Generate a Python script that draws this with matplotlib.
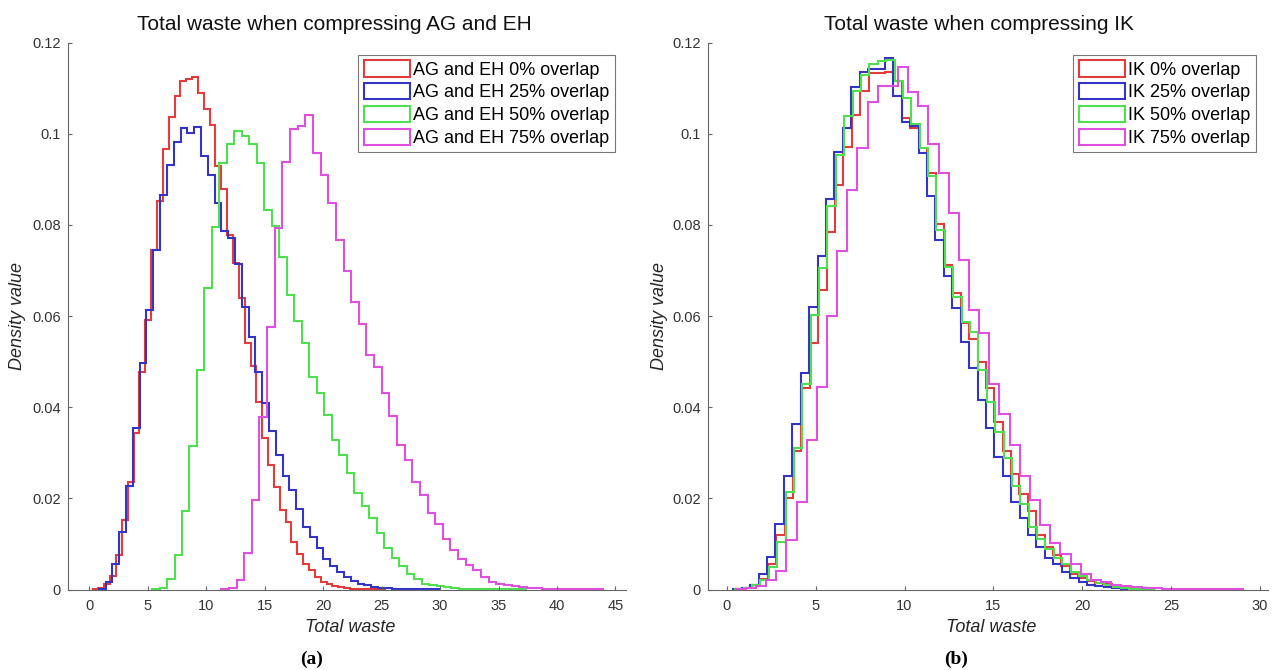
import numpy as np
import matplotlib.pyplot as plt
from matplotlib.patches import Patch

plt.rcParams['font.family'] = ['Liberation Sans', 'DejaVu Sans']

# density per bin, 50 bins each; bins start at *_start with width *_width
ag_labels = ['AG and EH 0% overlap', 'AG and EH 25% overlap',
             'AG and EH 50% overlap', 'AG and EH 75% overlap']
ag_start = [0.30, 0.83, 5.38, 11.30]
ag_width = [0.500, 0.582, 0.640, 0.653]

ag_0 = [0.0001, 0.0003, 0.0012, 0.0030, 0.0075, 0.0152, 0.0237, 0.0343, 0.0478, 0.0592,
        0.0746, 0.0852, 0.0966, 0.1037, 0.1083, 0.1116, 0.1120, 0.1124, 0.1090, 0.1055,
        0.1020, 0.0930, 0.0880, 0.0777, 0.0716, 0.0640, 0.0540, 0.0490, 0.0412, 0.0332,
        0.0273, 0.0226, 0.0174, 0.0149, 0.0105, 0.0079, 0.0057, 0.0042, 0.0028, 0.0017,
        0.0012, 0.0008, 0.0005, 0.0003, 0.0002, 0.0001, 0.0001, 0.00005, 0.00003, 0.00002]
ag_25 = [0.0002, 0.0017, 0.0057, 0.0127, 0.0228, 0.0354, 0.0497, 0.0614, 0.0744, 0.0865,
         0.0931, 0.0982, 0.1013, 0.1002, 0.1015, 0.0951, 0.0909, 0.0848, 0.0786, 0.0772,
         0.0715, 0.0620, 0.0555, 0.0478, 0.0410, 0.0348, 0.0295, 0.0248, 0.0218, 0.0176,
         0.0138, 0.0116, 0.0090, 0.0068, 0.0052, 0.0038, 0.0027, 0.0019, 0.0013, 0.0009,
         0.0006, 0.0004, 0.0003, 0.0002, 0.00015, 0.0001, 0.00008, 0.00005, 0.00003, 0.00002]
ag_50 = [0.0001, 0.0003, 0.0022, 0.0075, 0.0173, 0.0314, 0.0482, 0.0661, 0.0795, 0.0936,
         0.0977, 0.1006, 0.0995, 0.0977, 0.0936, 0.0833, 0.0797, 0.0729, 0.0647, 0.0590,
         0.0540, 0.0466, 0.0431, 0.0383, 0.0328, 0.0295, 0.0255, 0.0211, 0.0184, 0.0156,
         0.0123, 0.0090, 0.0070, 0.0052, 0.0034, 0.0022, 0.0013, 0.0009, 0.0007, 0.0005,
         0.0003, 0.0002, 0.00015, 0.0001, 0.00008, 0.00006, 0.00004, 0.00003, 0.00002, 0.00001]
ag_75 = [0.0001, 0.0004, 0.0021, 0.0081, 0.0196, 0.0378, 0.0577, 0.0793, 0.0938, 0.1011,
         0.1017, 0.1041, 0.0958, 0.0910, 0.0848, 0.0766, 0.0700, 0.0632, 0.0583, 0.0515,
         0.0489, 0.0431, 0.0380, 0.0317, 0.0284, 0.0237, 0.0207, 0.0167, 0.0144, 0.0110,
         0.0086, 0.0068, 0.0053, 0.0042, 0.0028, 0.0017, 0.0013, 0.0010, 0.0007, 0.0005,
         0.0004, 0.0003, 0.0002, 0.00015, 0.0001, 0.00008, 0.00005, 0.00004, 0.00003, 0.00002]

ik_labels = ['IK 0% overlap', 'IK 25% overlap', 'IK 50% overlap', 'IK 75% overlap']
ik_start = [0.424, 0.363, 0.470, 0.500]
ik_width = [0.472, 0.474, 0.472, 0.571]

ik_0 = [0.0001, 0.0003, 0.0009, 0.0024, 0.0057, 0.0119, 0.0200, 0.0304, 0.0442, 0.0541,
        0.0658, 0.0785, 0.0887, 0.0971, 0.1042, 0.1094, 0.1134, 0.1134, 0.1135, 0.1116,
        0.1035, 0.1012, 0.0969, 0.0914, 0.0802, 0.0713, 0.0650, 0.0584, 0.0550, 0.0500,
        0.0442, 0.0367, 0.0304, 0.0254, 0.0209, 0.0173, 0.0120, 0.0093, 0.0075, 0.0052,
        0.0034, 0.0025, 0.0018, 0.0014, 0.0012, 0.0006, 0.0003, 0.0002, 0.0001, 0.00005]
ik_25 = [0.0001, 0.0004, 0.0010, 0.0034, 0.0072, 0.0143, 0.0250, 0.0363, 0.0476, 0.0620,
         0.0732, 0.0857, 0.0960, 0.1012, 0.1102, 0.1135, 0.1143, 0.1143, 0.1167, 0.1084,
         0.1025, 0.1017, 0.0957, 0.0863, 0.0768, 0.0687, 0.0618, 0.0544, 0.0486, 0.0416,
         0.0355, 0.0290, 0.0250, 0.0191, 0.0156, 0.0120, 0.0093, 0.0070, 0.0057, 0.0039,
         0.0025, 0.0016, 0.0010, 0.0007, 0.0005, 0.0003, 0.0002, 0.0001, 0.0001, 0.00005]
ik_50 = [0.0001, 0.0003, 0.0010, 0.0020, 0.0050, 0.0105, 0.0213, 0.0310, 0.0451, 0.0603,
         0.0705, 0.0841, 0.0954, 0.1040, 0.1094, 0.1129, 0.1154, 0.1160, 0.1163, 0.1117,
         0.1079, 0.1021, 0.0968, 0.0908, 0.0790, 0.0708, 0.0643, 0.0588, 0.0566, 0.0482,
         0.0412, 0.0345, 0.0288, 0.0227, 0.0187, 0.0138, 0.0110, 0.0088, 0.0070, 0.0057,
         0.0039, 0.0030, 0.0021, 0.0014, 0.0010, 0.0006, 0.0004, 0.0002, 0.0001, 0.0001]
ik_75 = [0.0001, 0.0004, 0.0007, 0.0020, 0.0041, 0.0108, 0.0191, 0.0329, 0.0444, 0.0600,
         0.0743, 0.0877, 0.0968, 0.1070, 0.1106, 0.1106, 0.1146, 0.1092, 0.1061, 0.0977,
         0.0914, 0.0826, 0.0724, 0.0614, 0.0563, 0.0452, 0.0385, 0.0317, 0.0250, 0.0196,
         0.0142, 0.0102, 0.0079, 0.0057, 0.0034, 0.0021, 0.0016, 0.0010, 0.0008, 0.0006,
         0.0004, 0.0003, 0.0002, 0.00015, 0.0001, 0.0001, 0.00008, 0.00005, 0.00003, 0.00002]

y_ticks = [0, 0.02, 0.04, 0.06, 0.08, 0.1, 0.12]
y_tick_labels = ['0', '0.02', '0.04', '0.06', '0.08', '0.1', '0.12']

colors = ['#e23c3c', '#3434c6', '#4fe04f', '#e050e0']
W, H = 1276, 670


def fx(px):
    return px / W


def fy(py):
    return 1 - py / H


def draw_panel(rect, series, starts, widths, labels, xticks, xlim, legend_right):
    ax = fig.add_axes(rect)
    for vals, lo, w, c in zip(series, starts, widths, colors):
        edges = lo + w * np.arange(len(vals) + 1)
        ax.stairs(vals, edges, baseline=0, color=c, lw=1.5)

    ax.set_xlim(*xlim)
    ax.set_ylim(0, 0.12)
    ax.set_xticks(xticks)
    ax.set_yticks(y_ticks, y_tick_labels)
    for s in ['top', 'right']:
        ax.spines[s].set_visible(False)
    for s in ['left', 'bottom']:
        ax.spines[s].set_color('#666666')
        ax.spines[s].set_linewidth(0.8)
    ax.tick_params(direction='in', length=3, width=0.8, color='#666666',
                   labelcolor='#333333', labelsize=10.5)
    ax.tick_params(axis='x', pad=7)
    ax.tick_params(axis='y', pad=5)

    handles = [Patch(facecolor='none', edgecolor=c, lw=1.5) for c in colors]
    leg = ax.legend(handles, labels, loc='upper right',
                    bbox_to_anchor=(fx(legend_right), fy(55)), bbox_transform=fig.transFigure,
                    borderaxespad=0, fontsize=13, handlelength=2.55, handleheight=1.0,
                    handletextpad=0.2, labelspacing=0.25, borderpad=0.3,
                    fancybox=False, framealpha=1)
    leg.get_frame().set_edgecolor('#777777')
    leg.get_frame().set_linewidth(0.8)
    return ax


fig = plt.figure(figsize=(W / 100, H / 100), dpi=100)

top, bottom = 42.7, 589.5
draw_panel([fx(67.5), fy(bottom), fx(626) - fx(67.5), (bottom - top) / H],
           [ag_0, ag_25, ag_50, ag_75], ag_start, ag_width, ag_labels,
           range(0, 46, 5), (-1.85, 45.9), 615)
draw_panel([fx(707.5), fy(bottom), fx(1268) - fx(707.5), (bottom - top) / H],
           [ik_0, ik_25, ik_50, ik_75], ik_start, ik_width, ik_labels,
           range(0, 31, 5), (-1.09, 30.46), 1256)

fig.text(fx(334), fy(24), 'Total waste when compressing AG and EH', fontsize=15,
         ha='center', va='center', color='#111111')
fig.text(fx(979), fy(24), 'Total waste when compressing IK', fontsize=15,
         ha='center', va='center', color='#111111')

for cx in [350, 991]:
    fig.text(fx(cx), fy(628), 'Total waste', fontsize=13, style='italic',
             ha='center', va='center', color='#262626')
for cx in [18, 660]:
    fig.text(fx(cx), fy(316), 'Density value', fontsize=13, style='italic',
             rotation=90, ha='center', va='center', color='#262626')

fig.text(fx(312), fy(659), '(a)', fontsize=14, fontweight='bold',
         family='Liberation Serif', ha='center', va='center')
fig.text(fx(956), fy(659), '(b)', fontsize=14, fontweight='bold',
         family='Liberation Serif', ha='center', va='center')

fig.savefig('out.png', dpi=100)
